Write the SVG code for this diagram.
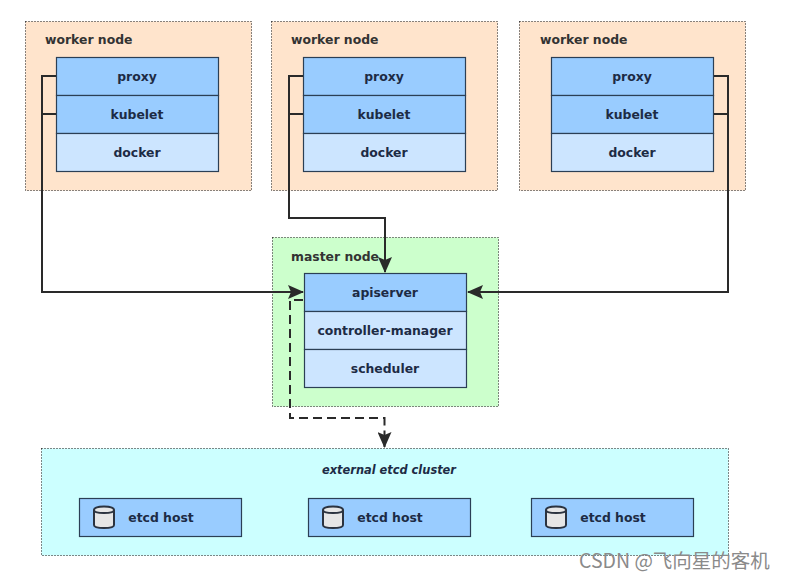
<svg xmlns="http://www.w3.org/2000/svg" width="786" height="580" viewBox="0 0 786 580">
<defs>
<marker id="arr" viewBox="0 0 16 14" refX="15" refY="7" markerWidth="16" markerHeight="14" markerUnits="userSpaceOnUse" orient="auto"><path d="M0 0L16 7L0 14L3 7Z" fill="#2a2a2a"/></marker>
</defs>
<style>
text{font-family:"DejaVu Sans",sans-serif;font-size:12.4px;font-weight:700;fill:#1d2b45;text-anchor:middle}
.t{text-anchor:start;fill:#333}
.z{stroke-width:1;stroke:#111;stroke-dasharray:1 2}
.w{fill:#ffe4cc}.m{fill:#ccffcc}.e{fill:#ccffff}
.a{fill:#99ccff;stroke:#2b3f55;stroke-width:1.2}
.b{fill:#cce5ff;stroke:#2b3f55;stroke-width:1.2}
.c{fill:none;stroke:#2a2a2a;stroke-width:2}
.d{fill:#e6e6e6;stroke:#2b3340;stroke-width:2}
.wm{font-family:"Noto Sans CJK SC","Liberation Sans",sans-serif;font-size:19.500px;font-weight:400;fill:#8a8a8a;text-anchor:start}
</style>
<rect width="786" height="580" fill="#fff"/>
<g id="worker1">
<rect class="w z" x="25.500" y="21.500" width="226" height="169"/>
<text class="t" x="45" y="44">worker node</text>
<rect class="a" x="56.500" y="57.500" width="162" height="38"/><text x="137" y="80.500">proxy</text>
<rect class="a" x="56.500" y="95.500" width="162" height="38"/><text x="137" y="118.500">kubelet</text>
<rect class="b" x="56.500" y="133.500" width="162" height="38"/><text x="137" y="156.500">docker</text>
</g>
<g id="worker2">
<rect class="w z" x="271.500" y="21.500" width="226" height="169"/>
<text class="t" x="291" y="44">worker node</text>
<rect class="a" x="303.500" y="57.500" width="162" height="38"/><text x="384" y="80.500">proxy</text>
<rect class="a" x="303.500" y="95.500" width="162" height="38"/><text x="384" y="118.500">kubelet</text>
<rect class="b" x="303.500" y="133.500" width="162" height="38"/><text x="384" y="156.500">docker</text>
</g>
<g id="worker3">
<rect class="w z" x="519.500" y="21.500" width="226" height="169"/>
<text class="t" x="540" y="44">worker node</text>
<rect class="a" x="551.500" y="57.500" width="162" height="38"/><text x="632" y="80.500">proxy</text>
<rect class="a" x="551.500" y="95.500" width="162" height="38"/><text x="632" y="118.500">kubelet</text>
<rect class="b" x="551.500" y="133.500" width="162" height="38"/><text x="632" y="156.500">docker</text>
</g>
<g id="master">
<rect class="m z" x="272.500" y="237.500" width="226" height="169"/>
<text class="t" x="291" y="261">master node</text>
<rect class="a" x="304.500" y="273.500" width="162" height="38"/><text x="385" y="296.500">apiserver</text>
<rect class="b" x="304.500" y="311.500" width="162" height="38"/><text x="385" y="334.500">controller-manager</text>
<rect class="b" x="304.500" y="349.500" width="162" height="38"/><text x="385" y="372.500">scheduler</text>
</g>
<g id="etcd">
<rect class="e z" x="41.500" y="448.500" width="687" height="107"/>
<text x="389" y="473.500" style="font-size:11.400px;font-style:italic">external etcd cluster</text>
</g>
<g id="etcd1">
<rect class="a" x="79.500" y="498.500" width="162" height="38"/>
<path class="d" d="M94 510V525Q94 528 104 528Q114 528 114 525V510Q114 506.500 104 506.500Q94 506.500 94 510Q94 513 104 513Q114 513 114 510"/>
<text x="161" y="521.500">etcd host</text>
</g>
<g id="etcd2">
<rect class="a" x="308.500" y="498.500" width="162" height="38"/>
<path class="d" d="M323 510V525Q323 528 333 528Q343 528 343 525V510Q343 506.500 333 506.500Q323 506.500 323 510Q323 513 333 513Q343 513 343 510"/>
<text x="390" y="521.500">etcd host</text>
</g>
<g id="etcd3">
<rect class="a" x="531.500" y="498.500" width="162" height="38"/>
<path class="d" d="M546 510V525Q546 528 556 528Q566 528 566 525V510Q566 506.500 556 506.500Q546 506.500 546 510Q546 513 556 513Q566 513 566 510"/>
<text x="613" y="521.500">etcd host</text>
</g>
<g id="connectors">
<path class="c" d="M56 76H42V292H303" marker-end="url(#arr)"/>
<path class="c" d="M56 114H42"/>
<path class="c" d="M303 76H289V218H385V272" marker-end="url(#arr)"/>
<path class="c" d="M303 114H289"/>
<path class="c" d="M714 76H728V292H468" marker-end="url(#arr)"/>
<path class="c" d="M714 114H728"/>
<path class="c" d="M303 300H290V418H384.500V447" stroke-dasharray="9 5" marker-end="url(#arr)"/>
</g>
<text class="wm" x="579" y="568">CSDN @飞向星的客机</text>
</svg>
